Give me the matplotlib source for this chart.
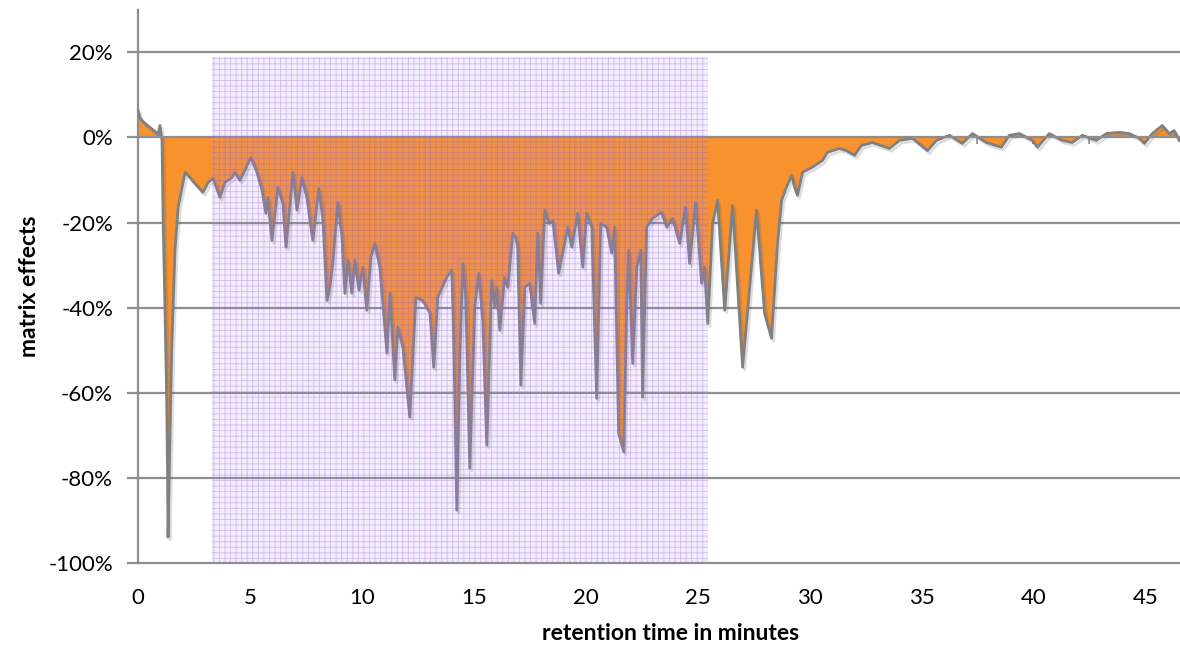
import matplotlib
matplotlib.use("Agg")
import matplotlib.pyplot as plt
import matplotlib.patheffects as pe
from matplotlib.patches import Rectangle
from matplotlib.ticker import FuncFormatter
import numpy as np

# --- data ---
# retention time in minutes
rt = [0.00, 0.09, 0.31, 0.54, 0.76, 0.89, 0.98, 1.07, 1.12, 1.21, 1.28, 1.32, 1.34,
      1.43, 1.50, 1.65, 1.79, 2.10, 2.23, 2.54, 2.90, 3.13, 3.35, 3.66, 3.88, 4.20,
      4.33, 4.55, 4.78, 5.04, 5.31, 5.54, 5.71, 5.80, 5.98, 6.25, 6.47, 6.61, 6.92,
      7.10, 7.32, 7.54, 7.81, 8.08, 8.26, 8.44, 8.57, 8.71, 8.93, 9.11, 9.24, 9.38,
      9.55, 9.69, 9.87, 10.04, 10.22, 10.40, 10.58, 10.80, 11.12, 11.25, 11.47, 11.61,
      11.83, 12.14, 12.41, 12.72, 13.04, 13.21, 13.39, 13.79, 14.02, 14.11, 14.24,
      14.38, 14.51, 14.64, 14.82, 15.04, 15.22, 15.40, 15.58, 15.80, 15.94, 16.03,
      16.16, 16.38, 16.52, 16.74, 16.88, 16.96, 17.10, 17.28, 17.50, 17.72, 17.86,
      17.99, 18.17, 18.35, 18.53, 18.79, 18.97, 19.20, 19.38, 19.64, 19.87, 20.04,
      20.27, 20.49, 20.67, 20.94, 21.16, 21.29, 21.47, 21.70, 21.83, 21.92, 22.10,
      22.28, 22.46, 22.54, 22.72, 22.99, 23.39, 23.62, 23.88, 24.20, 24.46, 24.64,
      24.91, 25.18, 25.31, 25.45, 25.67, 25.89, 26.21, 26.56, 27.01, 27.63, 27.99,
      28.30, 28.57, 28.75, 28.97, 29.20, 29.33, 29.46, 29.69, 30.13, 30.58, 30.80,
      31.34, 31.65, 32.01, 32.32, 32.81, 33.57, 34.02, 34.60, 35.27, 35.67, 36.25,
      36.83, 37.28, 37.90, 38.57, 38.93, 39.38, 39.96, 40.18, 40.71, 41.29, 41.74,
      42.19, 42.81, 43.26, 43.84, 44.29, 44.73, 44.96, 45.31, 45.76, 46.07, 46.29,
      46.52]
# matrix effects in %
me = [6.3, 4.5, 3.3, 2.3, 1.4, 0.7, 2.8, -0.7, -19.5, -42.3, -61.7, -80.5, -93.9,
      -69.5, -50.0, -26.5, -16.4, -8.2, -8.9, -10.8, -12.9, -10.6, -9.6, -14.1, -10.6,
      -9.4, -8.2, -10.1, -7.7, -4.7, -8.2, -12.4, -17.8, -14.1, -24.2, -11.7, -15.5,
      -25.8, -8.2, -17.1, -9.4, -14.1, -24.2, -12.0, -19.5, -38.3, -35.2, -28.9, -15.3,
      -23.5, -36.6, -28.9, -36.6, -28.9, -35.9, -30.5, -40.6, -28.2, -24.9, -30.5,
      -50.7, -36.6, -57.0, -44.6, -49.3, -65.7, -37.6, -38.3, -41.3, -54.0, -37.6,
      -32.9, -31.2, -49.3, -87.6, -50.7, -29.6, -37.6, -77.7, -39.9, -31.9, -43.0,
      -72.3, -33.6, -39.9, -35.2, -45.3, -32.9, -35.2, -22.5, -23.7, -25.8, -58.2,
      -35.2, -34.3, -43.7, -22.5, -39.0, -17.1, -20.2, -19.5, -31.9, -27.2, -21.1,
      -25.8, -17.8, -30.5, -17.8, -21.1, -61.3, -20.2, -21.1, -27.2, -21.1, -69.5,
      -73.9, -40.6, -26.5, -53.1, -30.5, -26.5, -61.0, -21.1, -19.0, -17.6, -21.1,
      -19.0, -24.9, -16.4, -29.6, -15.3, -34.3, -30.5, -43.7, -20.2, -14.8, -40.6,
      -16.0, -54.0, -17.1, -41.3, -47.2, -24.9, -14.8, -11.7, -8.9, -11.7, -13.6,
      -8.2, -7.0, -5.4, -3.5, -2.6, -3.1, -4.2, -1.9, -1.2, -2.6, -0.7, -0.2, -3.1,
      -0.7, 0.5, -1.4, 0.9, -1.2, -2.3, 0.5, 0.9, -0.7, -2.3, 0.9, -0.7, -1.2, 0.5,
      -0.7, 0.9, 1.2, 0.9, -0.2, -1.4, 0.9, 2.8, 0.9, 1.6, -0.7]

# highlighted retention window (minutes) and its top (%)
window = [3.30, 25.45]
window_top = 18.8

yticks = [-100, -80, -60, -40, -20, 0, 20]
xticks = list(range(0, 50, 5))

plt.rcParams["font.family"] = ["Lato", "DejaVu Sans"]
plt.rcParams["hatch.linewidth"] = 0.6

grid_gray = "#8e8e8e"

fig = plt.figure(figsize=(11.8, 6.48), dpi=100)
ax = fig.add_axes([0.117, 0.131, 0.883, 0.854])

ax.set_xlim(0, 46.55)
ax.set_ylim(-100, 30)

# gridlines (below the fill)
for yv in yticks:
    if yv != 0:
        ax.axhline(yv, color=grid_gray, lw=1.6, zorder=1, clip_on=False)

# area + outline
ax.fill_between(rt, me, 0, color="#F8922F", lw=0, zorder=2)
ax.plot(rt, me, color="#808080", lw=2.0, zorder=3, solid_joinstyle="round",
        path_effects=[pe.SimpleLineShadow(offset=(1.5, -2.0), alpha=0.2,
                                          shadow_color="#555555"),
                      pe.Normal()])

# zero line acts as the x axis
ax.spines["bottom"].set_position(("data", 0))
ax.spines["bottom"].set_color(grid_gray)
ax.spines["bottom"].set_linewidth(1.6)
ax.spines["bottom"].set_zorder(4)
ax.spines["left"].set_color(grid_gray)
ax.spines["left"].set_linewidth(1.6)
ax.spines["top"].set_visible(False)
ax.spines["right"].set_visible(False)

ax.set_xticks(np.arange(0, 47.5, 2.5))
ax.tick_params(axis="x", direction="out", length=5, width=1.2, color=grid_gray,
               labelbottom=False)

ax.set_yticks(yticks)
ax.yaxis.set_major_formatter(FuncFormatter(lambda v, p: f"{int(v)}%"))
ax.tick_params(axis="y", direction="out", length=8, width=1.6, color=grid_gray,
               labelsize=16, pad=10)

# labels for the x axis at the bottom
sec = ax.secondary_xaxis(0)
sec.set_xticks(xticks)
sec.tick_params(length=0, labelsize=16, pad=18)
sec.spines["bottom"].set_visible(False)

# shaded window
rect = Rectangle((window[0], -100), window[1] - window[0], window_top + 100,
                 facecolor=(0.72, 0.55, 0.92, 0.15),
                 edgecolor=(0.58, 0.35, 0.85, 0.35),
                 hatch="+++", lw=0, zorder=5)
ax.add_patch(rect)

ax.set_ylabel("matrix effects", fontsize=16.5, fontweight="bold", labelpad=6)
fig.text(0.568, 0.023, "retention time in minutes", fontsize=16.5,
         fontweight="bold", ha="center", va="center")

fig.savefig("out.png", dpi=100)
